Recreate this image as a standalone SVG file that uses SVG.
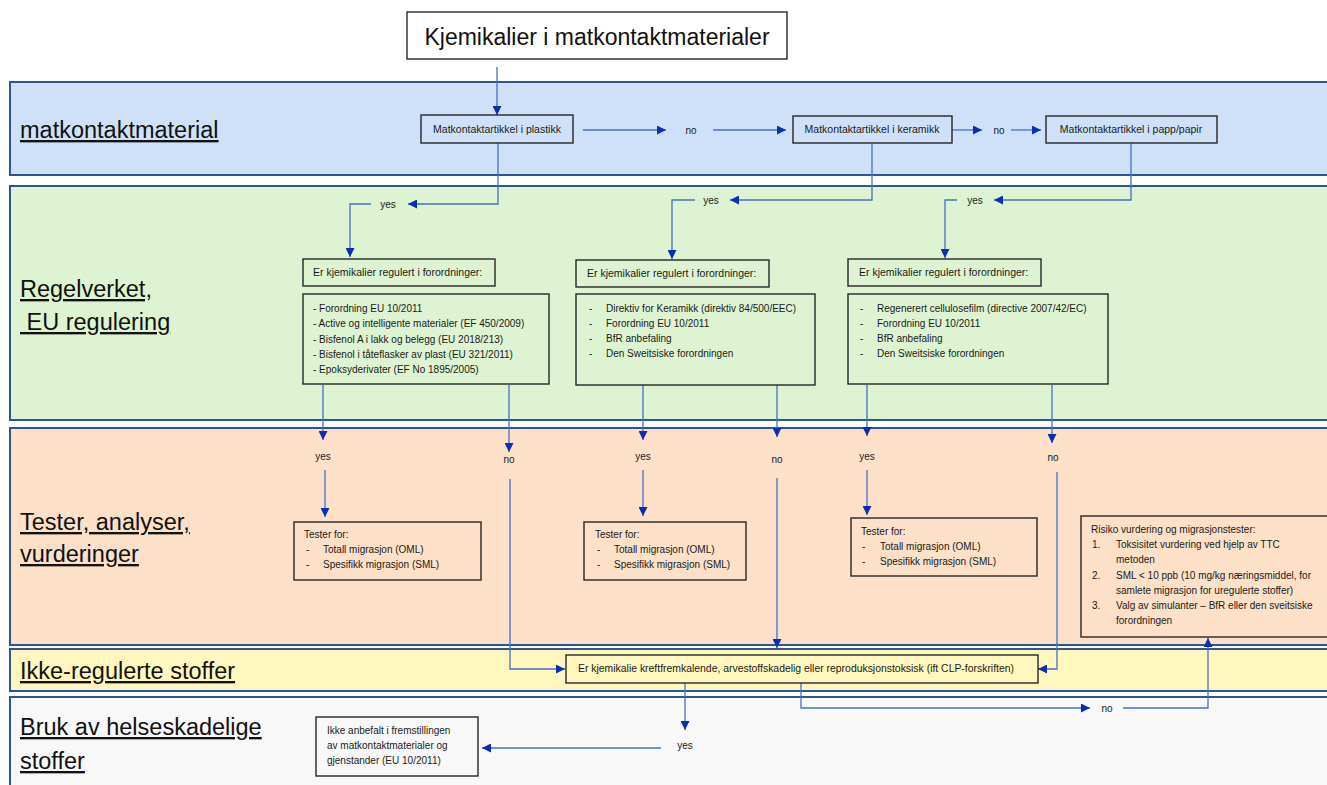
<svg xmlns="http://www.w3.org/2000/svg" width="1327" height="785" viewBox="0 0 1327 785">
<style>
.band{stroke:#2F5496;stroke-width:2}
.box{fill:none;stroke:#262626;stroke-width:1.4}
.t{font-family:"Liberation Sans",Arial,sans-serif;font-size:10px;fill:#1a1a1a}
.h{font-size:10.5px}
.lbl{font-family:"Liberation Sans",Arial,sans-serif;font-size:23.5px;fill:#111;text-decoration:underline}
.m{text-anchor:middle}
.c{fill:none;stroke:#4472C4;stroke-width:1.3}
.a{marker-end:url(#ah)}
</style>
<defs>
<marker id="ah" viewBox="0 0 10 10" refX="10" refY="5" markerWidth="9" markerHeight="9" markerUnits="userSpaceOnUse" orient="auto">
<path d="M0,0 L10,5 L0,10 z" fill="#0B2DB5"/>
</marker>
</defs>
<rect width="1327" height="785" fill="#ffffff"/>
<g id="bands">
<rect class="band" x="10" y="82" width="1322" height="93" fill="#CFE1F8"/>
<rect class="band" x="10" y="186" width="1322" height="234" fill="#DDF3D1"/>
<rect class="band" x="10" y="428" width="1322" height="217" fill="#FCE0C8"/>
<rect class="band" x="10" y="649" width="1322" height="42" fill="#FFF7BE"/>
<rect class="band" x="10" y="697" width="1322" height="95" fill="#F8F8F8"/>
<text class="lbl" x="20" y="138">matkontaktmaterial</text>
<text class="lbl" x="20" y="297">Regelverket,</text>
<text class="lbl" x="20" y="330">&#160;EU regulering</text>
<text class="lbl" x="20" y="530">Tester, analyser,</text>
<text class="lbl" x="20" y="562">vurderinger</text>
<text class="lbl" x="20" y="679">Ikke-regulerte stoffer</text>
<text class="lbl" x="20" y="735">Bruk av helseskadelige</text>
<text class="lbl" x="20" y="769">stoffer</text>
</g>
<g id="connectors">
<path class="c a" d="M497,67 V115"/>
<path class="c a" d="M583,130 H666"/>
<path class="c a" d="M713,130 H786"/>
<path class="c a" d="M952,130 H982"/>
<path class="c a" d="M1011,130 H1041"/>
<path class="c a" d="M498,143 V204 H408"/>
<path class="c a" d="M371,204 H350 V257"/>
<path class="c a" d="M872,143 V200 H730"/>
<path class="c a" d="M695,200 H672 V259"/>
<path class="c a" d="M1131,143 V200 H994"/>
<path class="c a" d="M957,200 H945 V258"/>
<path class="c a" d="M323,385 V440"/>
<path class="c a" d="M325,470 V517"/>
<path class="c a" d="M509,385 V452"/>
<path class="c a" d="M510,479 V669 H565"/>
<path class="c a" d="M643,385 V440"/>
<path class="c a" d="M643,470 V516"/>
<path class="c a" d="M777,385 V437"/>
<path class="c a" d="M777,478 V648"/>
<path class="c a" d="M867,385 V436"/>
<path class="c a" d="M867,470 V515"/>
<path class="c a" d="M1052,385 V443"/>
<path class="c a" d="M1057,472 V669 H1038"/>
<path class="c a" d="M685,683 V730"/>
<path class="c a" d="M661,748 H482"/>
<path class="c a" d="M801,683 V708 H1090"/>
<path class="c a" d="M1123,708 H1208 V638"/>
<text class="t m" x="691" y="134">no</text>
<text class="t m" x="999" y="134">no</text>
<text class="t m" x="388" y="208">yes</text>
<text class="t m" x="711" y="204">yes</text>
<text class="t m" x="975" y="204">yes</text>
<text class="t m" x="323" y="460">yes</text>
<text class="t m" x="509" y="463">no</text>
<text class="t m" x="643" y="460">yes</text>
<text class="t m" x="777" y="463">no</text>
<text class="t m" x="867" y="460">yes</text>
<text class="t m" x="1053" y="461">no</text>
<text class="t m" x="685" y="749">yes</text>
<text class="t m" x="1107" y="712">no</text>
</g>
<g id="title">
<rect x="407" y="12" width="380" height="47" fill="#ffffff" stroke="#262626" stroke-width="1.4"/>
<text x="597" y="45" text-anchor="middle" font-family="Liberation Sans, Arial, sans-serif" font-size="23" fill="#111">Kjemikalier i matkontaktmaterialer</text>
</g>
<g id="plastikk">
<rect class="box" x="421" y="115" width="152" height="28"/>
<text class="t h m" x="497" y="133">Matkontaktartikkel i plastikk</text>
</g>
<g id="keramikk">
<rect class="box" x="793" y="116" width="159" height="27"/>
<text class="t h m" x="872" y="133">Matkontaktartikkel i keramikk</text>
</g>
<g id="papp">
<rect class="box" x="1046" y="116" width="171" height="27"/>
<text class="t h m" x="1131" y="133">Matkontaktartikkel i papp/papir</text>
</g>
<g id="regel-plast-q">
<rect class="box" x="303" y="259" width="192" height="27"/>
<text class="t h" x="313" y="276">Er kjemikalier regulert i forordninger:</text>
</g>
<g id="regel-plast-list">
<rect class="box" x="303" y="294" width="246" height="90"/>
<text class="t" x="313" y="312">- Forordning EU 10/2011</text>
<text class="t" x="313" y="327">- Active og intelligente materialer (EF 450/2009)</text>
<text class="t" x="313" y="343">- Bisfenol A i lakk og belegg (EU 2018/213)</text>
<text class="t" x="313" y="358">- Bisfenol i tåteflasker av plast (EU 321/2011)</text>
<text class="t" x="313" y="373">- Epoksyderivater (EF No 1895/2005)</text>
</g>
<g id="regel-keramikk-q">
<rect class="box" x="576" y="260" width="193" height="27"/>
<text class="t h" x="587" y="277">Er kjemikalier regulert i forordninger:</text>
</g>
<g id="regel-keramikk-list">
<rect class="box" x="576" y="294" width="239" height="91"/>
<text class="t" x="589" y="312">-</text><text class="t" x="606" y="312">Direktiv for Keramikk (direktiv 84/500/EEC)</text>
<text class="t" x="589" y="327">-</text><text class="t" x="606" y="327">Forordning EU 10/2011</text>
<text class="t" x="589" y="342">-</text><text class="t" x="606" y="342">BfR anbefaling</text>
<text class="t" x="589" y="357">-</text><text class="t" x="606" y="357">Den Sweitsiske forordningen</text>
</g>
<g id="regel-papp-q">
<rect class="box" x="848" y="259" width="193" height="27"/>
<text class="t h" x="859" y="276">Er kjemikalier regulert i forordninger:</text>
</g>
<g id="regel-papp-list">
<rect class="box" x="848" y="294" width="260" height="90"/>
<text class="t" x="860" y="312">-</text><text class="t" x="877" y="312">Regenerert cellulosefilm (directive 2007/42/EC)</text>
<text class="t" x="860" y="327">-</text><text class="t" x="877" y="327">Forordning EU 10/2011</text>
<text class="t" x="860" y="342">-</text><text class="t" x="877" y="342">BfR anbefaling</text>
<text class="t" x="860" y="357">-</text><text class="t" x="877" y="357">Den Sweitsiske forordningen</text>
</g>
<g id="tester-plast">
<rect class="box" x="294" y="522" width="187" height="58"/>
<text class="t" x="304" y="538">Tester for:</text>
<text class="t" x="306" y="553">-</text><text class="t" x="323" y="553">Totall migrasjon (OML)</text>
<text class="t" x="306" y="568">-</text><text class="t" x="323" y="568">Spesifikk migrasjon (SML)</text>
</g>
<g id="tester-keramikk">
<rect class="box" x="584" y="522" width="162" height="58"/>
<text class="t" x="595" y="538">Tester for:</text>
<text class="t" x="597" y="553">-</text><text class="t" x="614" y="553">Totall migrasjon (OML)</text>
<text class="t" x="597" y="568">-</text><text class="t" x="614" y="568">Spesifikk migrasjon (SML)</text>
</g>
<g id="tester-papp">
<rect class="box" x="851" y="518" width="186" height="58"/>
<text class="t" x="861" y="535">Tester for:</text>
<text class="t" x="862" y="550">-</text><text class="t" x="880" y="550">Totall migrasjon (OML)</text>
<text class="t" x="862" y="565">-</text><text class="t" x="880" y="565">Spesifikk migrasjon (SML)</text>
</g>
<g id="risiko">
<rect class="box" x="1081" y="516" width="250" height="121"/>
<text class="t" x="1091" y="533">Risiko vurdering og migrasjonstester:</text>
<text class="t" x="1092" y="548">1.</text><text class="t" x="1116" y="548">Toksisitet vurdering ved hjelp av TTC</text>
<text class="t" x="1116" y="563">metoden</text>
<text class="t" x="1092" y="579">2.</text><text class="t" x="1116" y="579">SML &lt; 10 ppb (10 mg/kg næringsmiddel, for</text>
<text class="t" x="1116" y="594">samlete migrasjon for uregulerte stoffer)</text>
<text class="t" x="1092" y="609">3.</text><text class="t" x="1116" y="609">Valg av simulanter – BfR eller den sveitsiske</text>
<text class="t" x="1116" y="624">forordningen</text>
</g>
<g id="clp">
<rect class="box" x="566" y="655" width="472" height="28"/>
<text class="t" x="578" y="672" textLength="436" lengthAdjust="spacingAndGlyphs">Er kjemikalie kreftfremkalende, arvestoffskadelig eller reproduksjonstoksisk (ift CLP-forskriften)</text>
</g>
<g id="ikke-anbefalt">
<rect class="box" x="316" y="717" width="162" height="59"/>
<text class="t" x="327" y="734">Ikke anbefalt i fremstillingen</text>
<text class="t" x="327" y="749">av matkontaktmaterialer og</text>
<text class="t" x="327" y="764">gjenstander (EU 10/2011)</text>
</g>
</svg>
